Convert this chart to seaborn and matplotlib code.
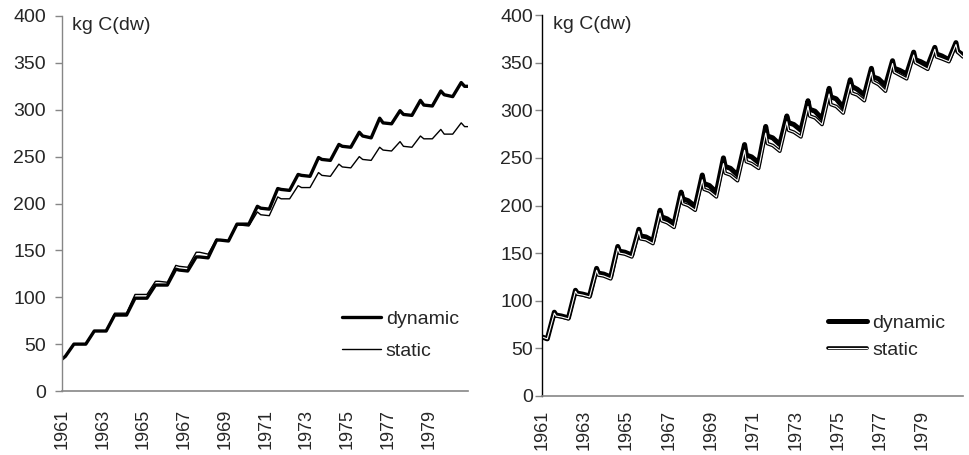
import matplotlib
matplotlib.use("Agg")
import matplotlib.pyplot as plt
import matplotlib.patheffects as pe
import seaborn as sns
import pandas as pd

# ---------------- data ----------------
years = list(range(1961, 1981))
tick_years = list(range(1961, 1980, 2))
y_ticks = [0, 50, 100, 150, 200, 250, 300, 350, 400]
unit_label = "kg C(dw)"
series_names = ["dynamic", "static"]

# Left panel: per year values at [Mar (pre-rise low), Aug (peak), Oct (after peak)]
left_key_months = [2, 7, 9]
left_start = 34          # Jan 1961
left_end = {"dynamic": 325, "static": 282}   # Dec 1980
left_dynamic = [
    [37, 50, 50], [50, 64, 64], [64, 81, 81], [81, 99, 99], [99, 113, 113],
    [113, 130, 129], [128, 143, 143], [142, 161, 161], [160, 178, 178], [178, 197, 195],
    [194, 216, 215], [214, 231, 230], [229, 249, 247], [246, 263, 261], [260, 276, 272],
    [270, 291, 286], [285, 299, 295], [294, 310, 305], [304, 320, 316], [314, 329, 325],
]
left_static = [
    [37, 50, 50], [50, 64, 64], [64, 83, 83], [83, 103, 103], [103, 117, 117],
    [116, 134, 133], [132, 148, 148], [146, 162, 161], [160, 177, 177], [176, 191, 188],
    [187, 207, 205], [205, 219, 217], [217, 233, 230], [229, 242, 239], [238, 250, 247],
    [246, 260, 257], [256, 266, 261], [260, 272, 269], [269, 279, 274], [274, 286, 282],
]

# Right panel: per year values at [Apr (trough), Aug (peak), Sep (shelf), Dec]
right_key_months = [3, 7, 8, 11]
right_start = 62         # Jan 1961
right_dynamic = [
    [60, 88, 85, 84], [82, 111, 108, 107], [105, 134, 129, 128], [125, 157, 152, 151],
    [148, 175, 168, 167], [163, 195, 188, 186], [181, 214, 207, 205], [199, 232, 223, 221],
    [214, 250, 241, 239], [232, 264, 253, 251], [245, 283, 273, 271], [264, 294, 287, 285],
    [279, 310, 301, 299], [291, 323, 314, 312], [303, 332, 325, 322], [316, 344, 335, 333],
    [326, 352, 344, 342], [338, 361, 353, 351], [347, 366, 359, 357], [353, 371, 362, 358],
]
right_static = [
    [60, 87, 84, 83], [81, 110, 107, 106], [104, 132, 127, 126], [123, 155, 150, 149],
    [146, 173, 165, 164], [160, 192, 184, 182], [177, 210, 202, 200], [195, 227, 217, 215],
    [209, 244, 234, 232], [226, 258, 246, 244], [239, 276, 265, 263], [257, 288, 279, 277],
    [272, 304, 294, 292], [285, 317, 306, 304], [297, 327, 318, 316], [310, 340, 330, 327],
    [320, 349, 340, 337], [333, 358, 350, 347], [343, 364, 356, 354], [351, 369, 361, 356],
]


def build(start, rows, months, end=None):
    xs, ys = [years[0] + 0.0], [start]
    for yr, row in zip(years, rows):
        for m, v in zip(months, row):
            xs.append(yr + m / 12.0)
            ys.append(v)
    if end is not None:
        xs.append(years[-1] + 11 / 12.0)
        ys.append(end)
    return pd.DataFrame({"date": xs, "value": ys})


# ---------------- figure ----------------
sns.set_style("white")
plt.rcParams["font.family"] = ["Liberation Sans", "DejaVu Sans"]
FS = 14

fig = plt.figure(figsize=(9.69, 4.55), dpi=100)
axL = fig.add_axes([62 / 969, 1 - 391 / 455, 406 / 969, 375 / 455])
axR = fig.add_axes([542 / 969, 1 - 396 / 455, 421 / 969, 381 / 455])

grey = "#868686"

# Left panel
dfL_dyn = build(left_start, left_dynamic, left_key_months, left_end["dynamic"])
dfL_sta = build(left_start, left_static, left_key_months, left_end["static"])
sns.lineplot(data=dfL_dyn, x="date", y="value", ax=axL, color="black", lw=2.4,
             sort=False, estimator=None, label="dynamic")
sns.lineplot(data=dfL_sta, x="date", y="value", ax=axL, color="black", lw=1.0,
             sort=False, estimator=None, label="static")

# Right panel
dfR_dyn = build(right_start, right_dynamic, right_key_months)
dfR_sta = build(right_start, right_static, right_key_months)
sns.lineplot(data=dfR_dyn, x="date", y="value", ax=axR, color="black", lw=3.6,
             sort=False, estimator=None, label="dynamic")
sns.lineplot(data=dfR_sta, x="date", y="value", ax=axR, color="black", lw=2.6,
             sort=False, estimator=None, label="static",
             path_effects=[pe.Normal(), pe.Stroke(linewidth=0.8, foreground="white")])

panel_cfg = {
    axL: dict(spine="#868686", ylen=5, ypad=6.5, xpad=13),
    axR: dict(spine="black", ylen=5, ypad=1.5, xpad=10),
}
for ax, cfg in panel_cfg.items():
    ax.set_xlim(years[0], years[-1] + 11 / 12.0)
    ax.set_ylim(0, 400)
    ax.set_yticks(y_ticks)
    ax.set_yticklabels([str(v) for v in y_ticks], fontsize=FS)
    ax.set_xticks(tick_years)
    ax.set_xticklabels([str(y) for y in tick_years], rotation=90, fontsize=13)
    ax.set_xlabel("")
    ax.set_ylabel("")
    for s in ("top", "right"):
        ax.spines[s].set_visible(False)
    ax.spines["bottom"].set_color(grey)
    ax.spines["left"].set_color(cfg["spine"])
    ax.spines["bottom"].set_linewidth(1.2)
    ax.spines["left"].set_linewidth(1.0)
    ax.tick_params(axis="y", which="both", direction="out", length=cfg["ylen"], width=1,
                   color=grey, pad=cfg["ypad"], left=True)
    ax.tick_params(axis="x", length=0, pad=cfg["xpad"])
    ax.text(0.025, 0.975, unit_label, transform=ax.transAxes, fontsize=FS,
            ha="left", va="center")
    ax.grid(False)

axL.legend(frameon=False, loc="lower left", bbox_to_anchor=(0.69, 0.083),
           fontsize=FS, handlelength=2.0, handletextpad=0.25, labelspacing=0.75,
           borderpad=0, borderaxespad=0)
axR.legend(frameon=False, loc="lower left", bbox_to_anchor=(0.68, 0.098),
           fontsize=FS, handlelength=2.0, handletextpad=0.25, labelspacing=0.45,
           borderpad=0, borderaxespad=0)

fig.savefig("out.png", dpi=100)
